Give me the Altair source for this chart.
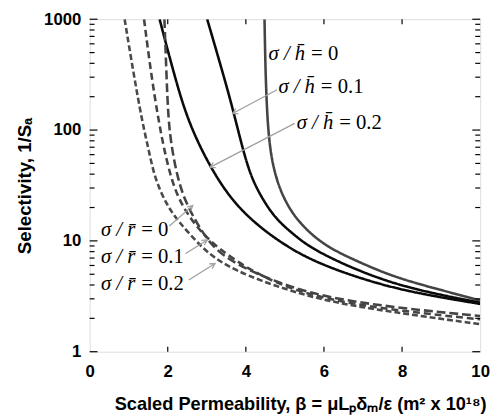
import math
import altair as alt
import pandas as pd

W, H = 397, 338

# ---------------- data ----------------
x_domain = [0, 10]
y_domain = [1, 1000]
x_ticks = [0, 2, 4, 6, 8, 10]
x_inner_ticks = [2, 4, 6, 8]
y_major = [1, 10, 100, 1000]
y_minor = [2, 3, 4, 5, 6, 7, 8, 9, 20, 30, 40, 50, 60, 70, 80, 90,
           200, 300, 400, 500, 600, 700, 800, 900]

# sigma/h curves (solid)
h0_x = [4.478, 4.502, 4.552, 4.627, 4.726, 4.876, 5.124, 5.448, 6.02, 6.866, 7.687, 8.507, 10.0]
h0_y = [1000, 333, 120, 65, 43, 28.8, 19.2, 13.6, 9.0, 6.5, 4.9, 4.0, 2.9]
h1_x = [3.01, 3.458, 3.682, 3.9, 4.129, 4.45, 4.776, 5.2, 5.697, 6.9, 8.184, 10.0]
h1_y = [1000, 288, 147, 72, 37.6, 23, 15.7, 11.6, 8.4, 5.3, 3.7, 2.77]
h2_x = [1.791, 2.15, 2.512, 3.085, 3.632, 4.204, 4.9, 5.697, 6.9, 8.184, 10.0]
h2_y = [1000, 330, 120, 46, 23.5, 14.7, 9.6, 6.6, 4.6, 3.45, 2.7]

# sigma/r curves (dashed)
r0_x = [1.915, 1.965, 2.015, 2.114, 2.264, 2.463, 2.761, 3.134, 3.706, 4.701, 6.02, 8.035, 10.0]
r0_y = [1000, 333, 120, 65, 35.4, 22.1, 14.1, 8.85, 6.25, 4.34, 3.07, 2.45, 2.1]
r1_x = [1.393, 1.567, 1.766, 1.965, 2.214, 2.587, 3.01, 3.706, 4.701, 6.02, 8.035, 10.0]
r1_y = [1000, 333, 120, 53, 26, 15.7, 10.4, 6.65, 4.2, 2.95, 2.31, 1.96]
r2_x = [0.896, 1.119, 1.343, 1.517, 1.667, 1.965, 2.289, 2.786, 3.284, 4.279, 6.02, 8.035, 10.0]
r2_y = [1000, 333, 120, 65, 36.8, 21.2, 14.7, 9.4, 6.5, 4.43, 2.82, 2.21, 1.77]

curve_names = ["h0", "h1", "h2", "r0", "r1", "r2"]
curve_xs = [h0_x, h1_x, h2_x, r0_x, r1_x, r2_x]
curve_ys = [h0_y, h1_y, h2_y, r0_y, r1_y, r2_y]

# labels
lab_italic = ["σ / h̄", "σ / h̄", "σ / h̄", "σ / r̄", "σ / r̄", "σ / r̄"]
lab_value = ["= 0", "= 0.1", "= 0.2", "= 0", "= 0.1", "= 0.2"]
lab_x = [5.62, 5.87, 6.34, 1.27, 1.27, 1.27]
lab_y = [480, 245, 115, 12.5, 7.1, 4.05]

# arrows (tail -> tip)
arr_x1 = [4.80, 5.25, 2.04, 2.46, 2.54]
arr_y1 = [231, 115, 13.6, 7.7, 4.43]
arr_x2 = [3.66, 3.08, 2.64, 3.01, 3.21]
arr_y2 = [141, 46, 20.8, 10.2, 6.25]

# ---------------- tables ----------------
rows = []
for name, xs, ys in zip(curve_names, curve_xs, curve_ys):
    for i, (a, b) in enumerate(zip(xs, ys)):
        rows.append({"curve": name, "x": a, "y": b, "o": i})
curves_df = pd.DataFrame(rows)


def px(v):
    return v / 10 * W


def py(v):
    return H * (1 - math.log10(v) / 3)


angles = []
for a1, b1, a2, b2 in zip(arr_x1, arr_y1, arr_x2, arr_y2):
    dx = px(a2) - px(a1)
    dy = py(b2) - py(b1)
    angles.append(math.degrees(math.atan2(dx, -dy)) % 360)

arrows_df = pd.DataFrame({"x1": arr_x1, "y1": arr_y1, "x2": arr_x2, "y2": arr_y2, "angle": angles})
labels_df = pd.DataFrame({"it": lab_italic, "val": lab_value, "x": lab_x, "y": lab_y})

xs = alt.Scale(domain=x_domain, nice=False, zero=False)
ys = alt.Scale(type="log", domain=y_domain, nice=False)

FONT = "Liberation Sans"
SERIF = "Liberation Serif"

x_axis = alt.Axis(values=x_ticks, ticks=False, domain=False, grid=False, format="d",
                  labelFont=FONT, labelFontWeight="bold", labelFontSize=17, labelColor="black",
                  labelPadding=12, labelFlush=False,
                  title="Scaled Permeability, β = μLₚδₘ/ε (m² x 10¹⁸)",
                  titleFont=FONT, titleFontWeight="bold", titleFontSize=18.5, titleColor="black",
                  titleX=214, titleY=44, titleBaseline="top")
y_axis = alt.Axis(values=y_major, ticks=False, domain=False, grid=False, format="d",
                  labelFont=FONT, labelFontWeight="bold", labelFontSize=17, labelColor="black",
                  labelPadding=9, labelFlush=False,
                  title="Selectivity, 1/Sₐ",
                  titleFont=FONT, titleFontWeight="bold", titleFontSize=19, titleColor="black",
                  titlePadding=9)

lines = alt.Chart(curves_df).mark_line(interpolate="basis", clip=True).encode(
    x=alt.X("x:Q", scale=xs, axis=x_axis),
    y=alt.Y("y:Q", scale=ys, axis=y_axis),
    order="o:Q",
    detail="curve:N",
    color=alt.Color("curve:N", legend=None, scale=alt.Scale(
        domain=curve_names, range=["#444444", "#0a0a0a", "#0a0a0a", "#444444", "#444444", "#4a4a4a"])),
    strokeWidth=alt.StrokeWidth("curve:N", legend=None, scale=alt.Scale(
        domain=curve_names, range=[2.6, 2.6, 2.6, 1.5, 1.5, 1.4])),
    strokeDash=alt.StrokeDash("curve:N", legend=None, scale=alt.Scale(
        domain=curve_names, range=[[1, 0], [1, 0], [1, 0], [9, 4], [7, 4], [6, 3]])),
)

arrow_lines = alt.Chart(arrows_df).mark_rule(color="#a0a0a0", strokeWidth=1.3).encode(
    x="x1:Q", y="y1:Q", x2="x2:Q", y2="y2:Q")
arrow_heads = alt.Chart(arrows_df).mark_point(
    shape="M -0.6 1.1 L 0 0 L 0.6 1.1", filled=False, color="#a0a0a0", strokeWidth=1.3, size=90, opacity=1
).encode(x="x2:Q", y="y2:Q", angle=alt.Angle("angle:Q", scale=None))

lab_it = alt.Chart(labels_df).mark_text(font=SERIF, fontStyle="italic", fontSize=21, align="right",
                                         baseline="middle", dx=-4, color="black").encode(
    x="x:Q", y="y:Q", text="it:N")
lab_val = alt.Chart(labels_df).mark_text(font=SERIF, fontSize=21, align="left",
                                          baseline="middle", dx=2, color="black").encode(
    x="x:Q", y="y:Q", text="val:N")


def yticks(vals, length, side):
    d = pd.DataFrame({"v": vals})
    if side == "left":
        enc = dict(x=alt.value(0), x2=alt.value(length))
    else:
        enc = dict(x=alt.value(W), x2=alt.value(W - length))
    return alt.Chart(d).mark_rule(color="black", strokeWidth=1.2).encode(y="v:Q", **enc)


def xticks(vals, length, side):
    d = pd.DataFrame({"v": vals})
    if side == "bottom":
        enc = dict(y=alt.value(H), y2=alt.value(H - length))
    else:
        enc = dict(y=alt.value(0), y2=alt.value(length))
    return alt.Chart(d).mark_rule(color="black", strokeWidth=1.2).encode(x="v:Q", **enc)


chart = alt.layer(
    lines, arrow_lines, arrow_heads, lab_it, lab_val,
    yticks(y_major, 8, "left"), yticks(y_minor, 5, "left"),
    yticks(y_major, 8, "right"), yticks(y_minor, 5, "right"),
    xticks(x_inner_ticks, 5, "bottom"), xticks(x_inner_ticks, 5, "top"),
).properties(
    width=W, height=H,
    padding={"left": 83, "top": 8, "right": 10, "bottom": 66},
    autosize=alt.AutoSizeParams(type="none"),
).configure_view(stroke="black", strokeWidth=2).configure(background="white")

chart.save("out.html", embed_options={"renderer": "svg", "actions": False})
